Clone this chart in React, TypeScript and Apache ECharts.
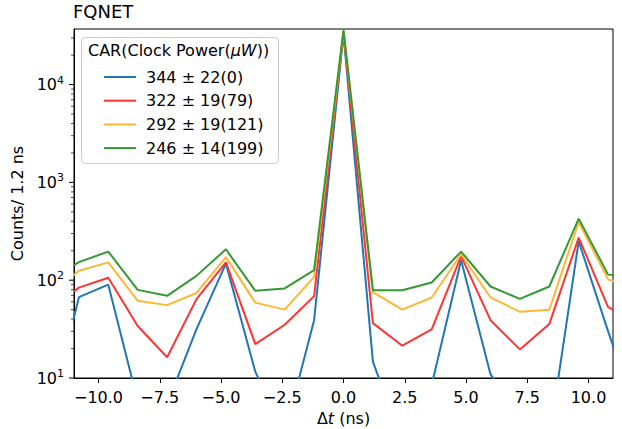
import React, { useEffect, useRef } from "react";
import * as echarts from "echarts";

const deltaT = [-12, -10.8, -9.6, -8.4, -7.2, -6.0, -4.8, -3.6, -2.4, -1.2, 0, 1.2, 2.4, 3.6, 4.8, 6.0, 7.2, 8.4, 9.6, 10.8, 12];

const seriesNames = ["344 ± 22(0)", "322 ± 19(79)", "292 ± 19(121)", "246 ± 14(199)"];
const seriesColors = ["#1f77b4", "#ff3333", "#ffb733", "#339933"];

const counts0 = [4, 67, 90, 5.8, 5.4, 31.6, 148, 11.6, 2.7, 39, 33000, 14.7, 2.2, 8.5, 160, 10.9, 4.2, 2.4, 250, 30, 4];
const counts79 = [50, 84, 106, 34, 16.3, 64, 152, 22.2, 35, 68.7, 34000, 36.4, 21.4, 31.4, 176, 39, 19.6, 35.6, 273, 53, 37];
const counts121 = [70, 125, 152, 61.5, 55.6, 74, 172, 59, 50, 108, 35000, 75.4, 50, 66.6, 184, 66.6, 47.5, 49.8, 393, 102, 80];
const counts199 = [98, 153, 196, 79.6, 69.2, 110.7, 207, 77.8, 82.3, 126.5, 36000, 79, 79, 94.8, 196, 86.2, 64.4, 86.2, 426, 114, 108];

const allCounts = [counts0, counts79, counts121, counts199];

const xTickValues = [-10, -7.5, -5, -2.5, 0, 2.5, 5, 7.5, 10];
const xMin = -11;
const xMax = 11;
const yMin = 10;
const yMax = 37000;

const FONT = "DejaVu Sans";

export default function App() {
  const ref = useRef<HTMLDivElement>(null);
  useEffect(() => {
    if (!ref.current) return;
    const chart = echarts.init(ref.current, null, { renderer: "svg" });
    const option: any = {
      animation: false,
      textStyle: { fontFamily: FONT },
      title: {
        text: "FQNET",
        left: 73,
        top: 2,
        padding: 0,
        textStyle: { fontFamily: FONT, fontSize: 18, fontWeight: "normal", color: "#000" },
      },
      grid: {
        left: 74,
        right: 9,
        top: 29,
        bottom: 51,
        containLabel: false,
        outerBoundsMode: "none",
        show: true,
        borderColor: "#000",
        borderWidth: 1,
        backgroundColor: "transparent",
      },
      legend: {
        orient: "vertical",
        left: 99,
        top: 64,
        icon: "rect",
        itemWidth: 32,
        itemHeight: 2,
        itemGap: 7.7,
        data: seriesNames,
        textStyle: { fontFamily: FONT, fontSize: 16, color: "#000", lineHeight: 16, padding: [0, 0, 0, 5] },
      },
      xAxis: {
        type: "value",
        min: xMin,
        max: xMax,
        name: "Δ{i|t} (ns)",
        nameLocation: "middle",
        nameGap: 32,
        nameTextStyle: { fontFamily: FONT, fontSize: 16, color: "#000", rich: { i: { fontFamily: FONT, fontSize: 16, fontStyle: "italic", color: "#000" } } },
        axisLine: { onZero: false, lineStyle: { color: "#000", width: 1 } },
        axisTick: { show: true, length: 5, customValues: xTickValues, lineStyle: { color: "#000" } },
        axisLabel: {
          customValues: xTickValues,
          margin: 11,
          fontFamily: FONT,
          fontSize: 16,
          color: "#000",
          formatter: (v: number) => (v < 0 ? "\u2212" : "") + Math.abs(v).toFixed(1),
        },
        splitLine: { show: false },
      },
      yAxis: {
        type: "log",
        logBase: 10,
        min: yMin,
        max: yMax,
        name: "Counts/ 1.2 ns",
        nameLocation: "middle",
        nameGap: 46,
        nameTextStyle: { fontFamily: FONT, fontSize: 16, color: "#000" },
        axisLine: { show: true, onZero: false, lineStyle: { color: "#000", width: 1 } },
        axisTick: { show: false },
        axisLabel: {
          margin: 10,
          fontFamily: FONT,
          fontSize: 16,
          color: "#000",
          showMaxLabel: false,
          formatter: (v: number) => {
            const l = Math.log10(v);
            if (Math.abs(l - Math.round(l)) > 1e-6) return "";
            return "10{sup|" + Math.round(l) + "}";
          },
          rich: {
            sup: { fontFamily: FONT, fontSize: 11, color: "#000", padding: [0, 0, 9, 0] },
          },
        },
        splitLine: { show: false },
      },
      series: seriesNames.map((name, i) => ({
        name,
        type: "line",
        data: deltaT.map((t, j) => [t, allCounts[i][j]]),
        showSymbol: false,
        symbol: "none",
        clip: true,
        lineStyle: { color: seriesColors[i], width: 2 },
        itemStyle: { color: seriesColors[i] },
        z: 2 + i,
      })),
    };
    chart.setOption(option);

    const left = chart.convertToPixel({ xAxisIndex: 0 }, xMin) as number;
    const graphics: any[] = [];
    graphics.push({
      type: "rect",
      shape: { x: 81.5, y: 37.5, width: 197, height: 126, r: 4 },
      style: { fill: "rgba(255,255,255,0.8)", stroke: "#cccccc", lineWidth: 1 },
      z: 1,
    });
    graphics.push({
      type: "text",
      x: 88,
      y: 50,
      style: {
        text: "CAR(Clock Power({i|μW}))",
        fontFamily: FONT,
        fontSize: 16,
        fill: "#000",
        verticalAlign: "middle",
        rich: { i: { fontFamily: FONT, fontSize: 16, fontStyle: "italic", fill: "#000" } },
      },
      z: 2,
    });
    for (let d = 1; d <= 4; d++) {
      for (let m = 1; m <= 9; m++) {
        const v = m * Math.pow(10, d);
        if (v < yMin || v > yMax) continue;
        const y = chart.convertToPixel({ yAxisIndex: 0 }, v) as number;
        const major = m === 1;
        graphics.push({
          type: "line",
          shape: { x1: left, y1: y, x2: left - (major ? 5 : 3), y2: y },
          style: { stroke: "#000", lineWidth: major ? 1 : 0.7 },
          silent: true,
        });
      }
    }
    chart.setOption({ graphic: graphics });

    return () => chart.dispose();
  }, []);
  return <div ref={ref} style={{ position: "absolute", left: 0, top: 0, width: 622, height: 429 }} />;
}
